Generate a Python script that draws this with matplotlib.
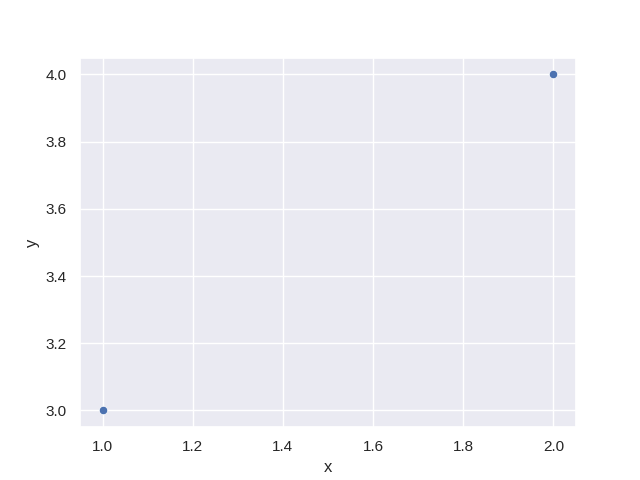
import matplotlib
matplotlib.use('Agg')
import matplotlib.pyplot as plt
import pandas as pd
import seaborn as sns

x = [1, 2]
y = [3, 4]


def main():
    sns.set_theme()
    # reference uses Arial-like text
    plt.rcParams['font.family'] = ['Liberation Sans', 'DejaVu Sans']
    df = pd.DataFrame({'x': x, 'y': y})
    fig, ax = plt.subplots(figsize=(6.4, 4.8), dpi=100)
    sns.scatterplot(data=df, x='x', y='y', ax=ax)
    fig.savefig('out.png')


if __name__ == '__main__':
    main()
